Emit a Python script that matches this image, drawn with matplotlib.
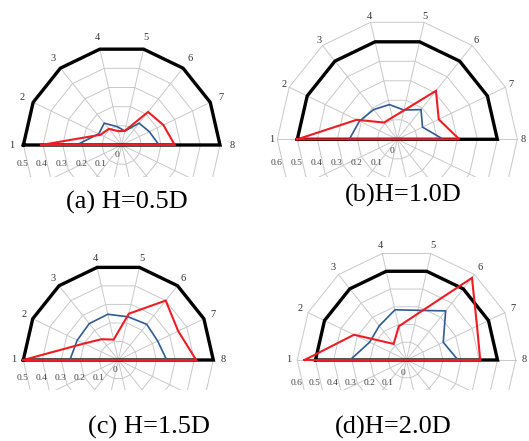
import numpy as np
import matplotlib
matplotlib.use('Agg')
import matplotlib.pyplot as plt

# radar chart, 14 categories round the circle: 1..8 on the top half,
# the 6 lower ones are empty (0) and cut off in the figure
cats = ['1', '2', '3', '4', '5', '6', '7', '8']
n_spokes = 14
bottom_vals = [0, 0, 0, 0, 0, 0]

captions = ['(a) H=0.5D', '(b)H=1.0D', '(c) H=1.5D', '(d)H=2.0D']
ticks_a = [0.1, 0.2, 0.3, 0.4, 0.5]
ticks_b = [0.1, 0.2, 0.3, 0.4, 0.5, 0.6]

black_a = [0.5, 0.5, 0.5, 0.5, 0.5, 0.5, 0.5, 0.5]
blue_a = [0.23, 0.13, 0.142, 0.095, 0.073, 0.142, 0.156, 0.19]
red_a = [0.41, 0.12, 0.105, 0.072, 0.074, 0.215, 0.235, 0.27]

black_b = [0.5, 0.5, 0.5, 0.5, 0.5, 0.5, 0.5, 0.5]
blue_b = [0.24, 0.21, 0.19, 0.178, 0.15, 0.19, 0.14, 0.23]
red_b = [0.5, 0.225, 0.107, 0.112, 0.148, 0.31, 0.23, 0.31]

black_c = [0.5, 0.5, 0.5, 0.5, 0.5, 0.5, 0.5, 0.5]
blue_c = [0.255, 0.24, 0.245, 0.247, 0.233, 0.24, 0.23, 0.255]
red_c = [0.5, 0.2, 0.14, 0.11, 0.25, 0.40, 0.35, 0.41]

black_d = [0.5, 0.5, 0.5, 0.5, 0.5, 0.5, 0.5, 0.5]
blue_d = [0.31, 0.225, 0.24, 0.283, 0.28, 0.345, 0.224, 0.283]
red_d = [0.56, 0.32, 0.113, 0.19, 0.258, 0.577, 0.43, 0.405]

W, H = 529, 441
SERIF = 'Liberation Serif'
GRID = '#c9c9c9'
BLUE = '#2f5b94'
RED = '#ee1c24'


def angles(n):
    # category 1 on the left, going clockwise
    return np.deg2rad(180 - np.arange(n) * 360.0 / n_spokes)


def closed_xy(vals):
    v = np.array(list(vals) + bottom_vals + [vals[0]], dtype=float)
    th = angles(len(v))
    return v * np.cos(th), v * np.sin(th)


def radar(cx, cy, s, ticks, d, series, lab_dy, zero_off, lab_r):
    rmax = ticks[-1]
    L = rmax + 0.03
    T = rmax + 0.03
    ax = fig.add_axes([(cx - L * s) / W, (H - cy - d) / H,
                       2 * L * s / W, (T * s + d) / H])
    ax.set_xlim(-L, L)
    ax.set_ylim(-d / s, T)
    ax.axis('off')

    th = angles(n_spokes + 1)
    for t in ticks:
        ax.plot(t * np.cos(th), t * np.sin(th), color=GRID, lw=0.7, zorder=1)
    for a in th[:-1]:
        ax.plot([0, rmax * np.cos(a)], [0, rmax * np.sin(a)], color=GRID,
                lw=0.7, zorder=1)

    for vals, col, lw in series:
        x, y = closed_xy(vals)
        ax.plot(x, y, color=col, lw=lw, solid_joinstyle='miter', zorder=3)

    th8 = angles(len(cats))
    for lab, a in zip(cats, th8):
        ax.text(lab_r * rmax * np.cos(a), lab_r * rmax * np.sin(a), lab,
                ha='center', va='center', fontsize=7.5, family=SERIF,
                color='#333333')

    for t in ticks:
        ax.annotate('%.1f' % t, (-t, 0), xytext=(-1, -lab_dy),
                    textcoords='offset pixels', ha='center', va='center',
                    fontsize=6.8, family=SERIF, color='#444444')
    ax.annotate('0', (0, 0), xytext=zero_off, textcoords='offset pixels',
                ha='center', va='center', fontsize=6.8, family=SERIF,
                color='#444444')
    return ax


fig = plt.figure(figsize=(W / 100, H / 100), dpi=100)

radar(121.7, 145, 196.6, ticks_a, 32,
      [(black_a, 'black', 2.4), (blue_a, BLUE, 1.2), (red_a, RED, 1.5)],
      19, (-5, -10), 1.12)
radar(397.3, 139.3, 200, ticks_b, 38,
      [(black_b, 'black', 2.4), (blue_b, BLUE, 1.2), (red_b, RED, 1.5)],
      24, (-5, -12), 1.05)
radar(118.3, 360, 190, ticks_a, 30,
      [(black_c, 'black', 2.4), (blue_c, BLUE, 1.2), (red_c, RED, 1.5)],
      18, (-3, -10), 1.1)
radar(406.5, 360, 182, ticks_b, 30,
      [(black_d, 'black', 2.4), (blue_d, BLUE, 1.2), (red_d, RED, 1.5)],
      23, (-4, -13), 1.08)

cap_pos = [(127, 202), (403, 195), (149, 427), (393, 427)]
for txt, (x, y) in zip(captions, cap_pos):
    fig.text(x / W, 1 - y / H, txt, ha='center', va='center', fontsize=19,
             family=SERIF)

fig.savefig('out.png', dpi=100)
